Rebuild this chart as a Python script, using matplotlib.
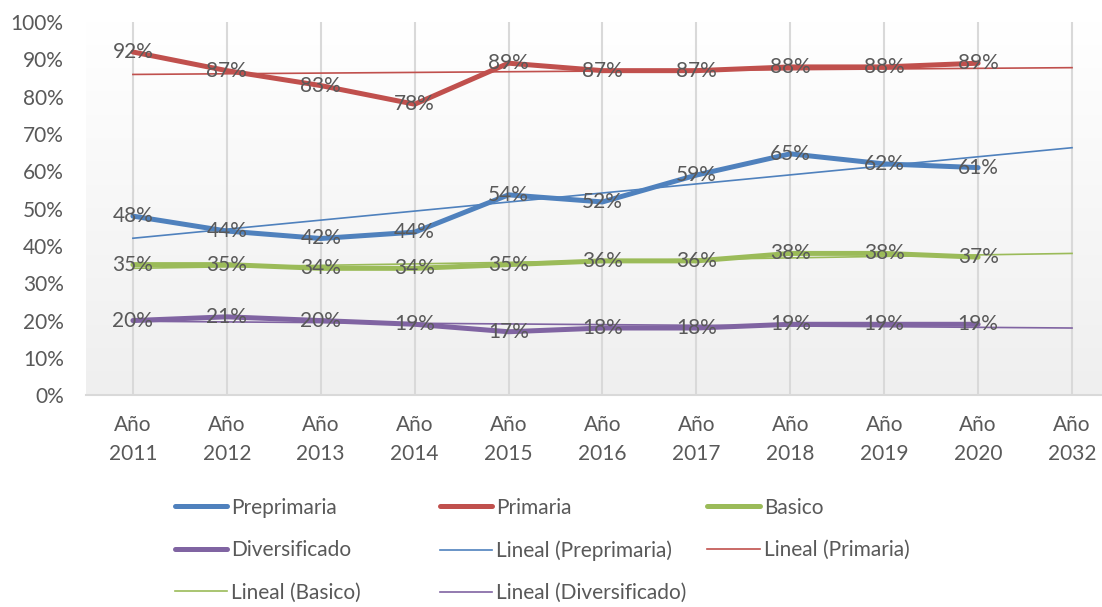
import numpy as np
import matplotlib.pyplot as plt
from matplotlib.colors import LinearSegmentedColormap
from matplotlib.ticker import PercentFormatter

plt.rcParams['font.family'] = ['Lato', 'DejaVu Sans']

# ---- DATA ----
years = ["Año\n2011", "Año\n2012", "Año\n2013", "Año\n2014", "Año\n2015",
         "Año\n2016", "Año\n2017", "Año\n2018", "Año\n2019", "Año\n2020",
         "Año\n2032"]
preprimaria = [0.48, 0.44, 0.42, 0.437, 0.537, 0.518, 0.59, 0.647, 0.62, 0.61]
primaria = [0.92, 0.87, 0.83, 0.78, 0.89, 0.87, 0.87, 0.88, 0.88, 0.89]
basico = [0.35, 0.35, 0.34, 0.34, 0.35, 0.36, 0.36, 0.38, 0.38, 0.37]
diversificado = [0.20, 0.21, 0.20, 0.19, 0.17, 0.18, 0.18, 0.19, 0.19, 0.19]

series = [("Preprimaria", preprimaria, "#4f81bd"),
          ("Primaria", primaria, "#c0504d"),
          ("Basico", basico, "#9bbb59"),
          ("Diversificado", diversificado, "#8064a2")]

TXT = "#595959"
GRID = "#d9d9d9"

fig = plt.figure(figsize=(11.02, 6.07), dpi=100)
ax = fig.add_axes([0.078, 0.349, 0.9374, 0.6145])

# soft vertical gradient behind the plot area
grad = np.linspace(0, 1, 256).reshape(-1, 1)
cmap = LinearSegmentedColormap.from_list("bg", ["#ffffff", "#efefef"])
ax.imshow(grad, cmap=cmap, aspect="auto", extent=[0, 1, 0, 1],
          transform=ax.transAxes, zorder=0, origin="upper")

x_all = np.arange(len(years))
handles = {}
for name, vals, color in series:
    x = np.arange(len(vals))
    ln, = ax.plot(x, vals, color=color, lw=3.6, solid_capstyle="round",
                  solid_joinstyle="round", zorder=3)
    handles[name] = ln
    # linear trend, projected one period forward
    m, b = np.polyfit(x + 1, vals, 1)
    xt = np.arange(len(vals) + 1)
    tl, = ax.plot(xt, m * (xt + 1) + b, color=color, lw=1.2, zorder=4)
    handles["Lineal (%s)" % name] = tl
    for xi, v in zip(x, vals):
        ax.text(xi, v, "{:.0%}".format(v), ha="center", va="center",
                fontsize=15, color=TXT, zorder=5)

ax.set_xlim(-0.5, len(years) - 0.5)
ax.set_ylim(0, 1)
ax.set_xticks(x_all)
ax.set_xticklabels(years, fontsize=15, color=TXT, linespacing=1.6)
ax.set_yticks(np.arange(0, 1.01, 0.1))
ax.yaxis.set_major_formatter(PercentFormatter(1.0, decimals=0))
ax.tick_params(axis="y", length=0, pad=16, labelsize=15, labelcolor=TXT)
ax.tick_params(axis="x", length=0, pad=14)
ax.grid(axis="x", color=GRID, lw=1.5, zorder=1)
ax.set_axisbelow(True)
for s in ["top", "right", "left"]:
    ax.spines[s].set_visible(False)
ax.spines["bottom"].set_color(GRID)
ax.spines["bottom"].set_linewidth(1.5)

# legend laid out as three equal-width columns
columns = [
    ["Preprimaria", "Diversificado", "Lineal (Basico)"],
    ["Primaria", "Lineal (Preprimaria)", "Lineal (Diversificado)"],
    ["Basico", "Lineal (Primaria)"],
]
col_x = [0.159, 0.399, 0.642]
for cx, names in zip(col_x, columns):
    leg = fig.legend([handles[n] for n in names], names, loc="upper left",
                     bbox_to_anchor=(cx, 0.180), frameon=False, fontsize=15,
                     handlelength=2.5, handletextpad=0.2, labelspacing=1.08,
                     borderpad=0, borderaxespad=0)
    for t in leg.get_texts():
        t.set_color(TXT)

fig.savefig("out.png", dpi=100)
